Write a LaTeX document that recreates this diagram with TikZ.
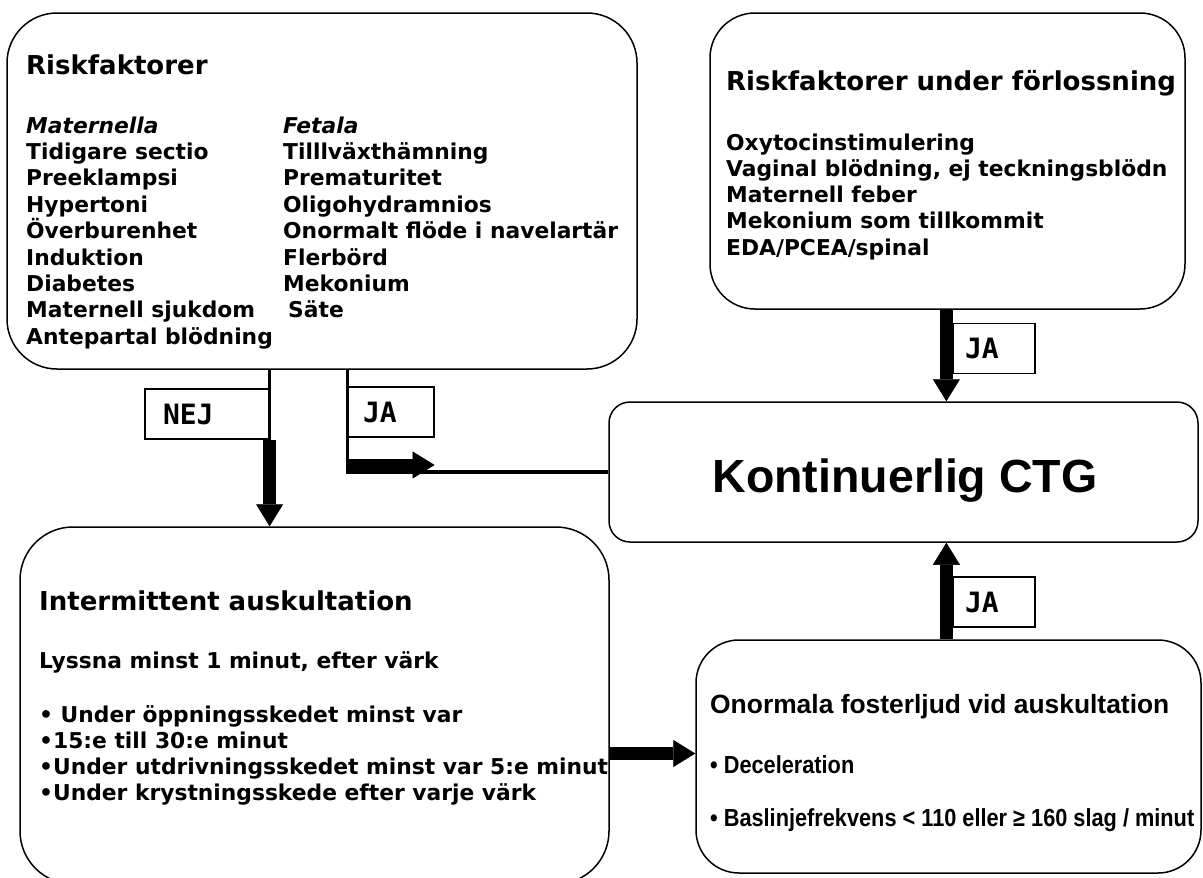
\documentclass[tikz,border=0pt]{standalone}
\usepackage{fontspec}
\usetikzlibrary{arrows.meta,calc}
\setmainfont{DejaVu Sans}
\newfontfamily\arialfont{Liberation Sans}
\newfontfamily\arialnarrow{Liberation Sans}[FakeStretch=0.88]
\newfontfamily\labelfont{DejaVu Sans Mono}

\begin{document}
\begin{tikzpicture}[x=1pt,y=-1pt,
    roundbox/.style={draw,line width=1.5pt,inner sep=0pt},
    answerbox/.style={draw,line width=1.2pt,inner ysep=0pt,minimum height=50pt,align=left,
        font=\labelfont\bfseries\fontsize{28pt}{30pt}\selectfont},
    boxtitle/.style={anchor=base west,inner sep=0pt,font=\bfseries\fontsize{26pt}{30pt}\selectfont},
    boxitem/.style={anchor=base west,inner sep=0pt,font=\bfseries\fontsize{21.8pt}{26pt}\selectfont},
    link/.style={line width=3.5pt},
    bigarrow/.style={line width=13pt,-{Triangle[width=27pt,length=22pt,line width=0.5pt]}}]
\useasboundingbox (0,0) rectangle (1203,878);

% Boxes
\node[roundbox,rounded corners=50pt,minimum width=630pt,minimum height=356pt] (risk) at (322,191) {};
\node[roundbox,rounded corners=45pt,minimum width=475pt,minimum height=296pt] (riskb) at (947.5,161) {};
\node[roundbox,rounded corners=21pt,minimum width=589pt,minimum height=140pt] (ctg) at (903.5,472) {};
\node[roundbox,rounded corners=53pt,minimum width=589pt,minimum height=357pt] (ausk) at (314.5,705.5) {};
\node[roundbox,rounded corners=43pt,minimum width=505pt,minimum height=233pt] (onorm) at (948.5,756.5) {};

% Riskfaktorer
\node[boxtitle] (risktitle) at (26,74) {Riskfaktorer};
\node[boxitem] (mat) at (26,133) {\itshape Maternella};
\foreach \t [count=\i] in {Tidigare sectio,Preeklampsi,Hypertoni,Överburenhet,Induktion,Diabetes,Maternell sjukdom,Antepartal blödning}
    \node[boxitem] (mat\i) at (26,{133+26.4*\i}) {\t};
\node[boxitem] (fet) at (283,133) {\itshape Fetala};
\foreach \t [count=\i] in {Tilllväxthämning,Prematuritet,Oligohydramnios,Onormalt flöde i navelartär,Flerbörd,Mekonium}
    \node[boxitem] (fet\i) at (283,{133+26.4*\i}) {\t};
\node[boxitem] (fet7) at (288,{133+26.4*7}) {Säte};

% Riskfaktorer under förlossning
\node[boxtitle] (riskbtitle) at (726,90) {Riskfaktorer under förlossning};
\foreach \t [count=\i from 0] in {Oxytocinstimulering,{Vaginal blödning, ej teckningsblödn},Maternell feber,Mekonium som tillkommit,EDA/PCEA/spinal}
    \node[boxitem] (rb\i) at (726,{150+26.3*\i}) {\t};

% Kontinuerlig CTG
\node[anchor=base,inner sep=0pt,font=\arialfont\bfseries\fontsize{46.5pt}{50pt}\selectfont] (ctgtitle) at (905,492) {Kontinuerlig CTG};

% Intermittent auskultation
\node[boxtitle] (ausktitle) at (39,610) {Intermittent auskultation};
\node[boxitem] (lyssna) at (39,668) {Lyssna minst 1 minut, efter värk};
\foreach \t [count=\i from 0] in {• Under öppningsskedet minst var,•15:e till 30:e minut,•Under utdrivningsskedet minst var 5:e minut,•Under krystningsskede efter varje värk}
    \node[boxitem] (ak\i) at (39,{722+26.3*\i}) {\t};

% Onormala fosterljud
\node[anchor=base west,inner sep=0pt,font=\arialfont\bfseries\fontsize{26.4pt}{30pt}\selectfont] (onormtitle) at (710,713) {Onormala fosterljud vid auskultation};
\node[anchor=base west,inner sep=0pt,font=\arialnarrow\bfseries\fontsize{24.7pt}{28pt}\selectfont] (dec) at (710,773) {• Deceleration};
\node[anchor=base west,inner sep=0pt,font=\arialnarrow\bfseries\fontsize{24.7pt}{28pt}\selectfont] (bas) at (710,826) {• Baslinjefrekvens < 110 eller ≥ 160 slag / minut};

% Answer labels
\node[answerbox,inner xsep=18pt,text width=88pt] (nej) at (207,414) {NEJ};
\node[answerbox,inner xsep=15pt,text width=56pt] (ja1) at (391,412) {JA};
\node[answerbox,inner xsep=12pt,text width=58pt] (ja2) at (994,348.5) {JA};
\node[answerbox,inner xsep=12pt,text width=58pt] (ja3) at (994,602) {JA};

% Connectors
\draw[link] (nej.north east |- risk.south) -- (nej.south east);
\draw[bigarrow] (nej.south east) -- (nej.south east |- ausk.north);
\draw[link] (ja1.south west |- risk.south) -- (ja1.south west |- ctg.west) -- (ctg.west);
\draw[bigarrow] ($(ja1.south west |- ctg.west)+(0,-7)$) -- ($(ja1.south east |- ctg.west)+(0,-7)$);
\draw[bigarrow] ($(riskb.south -| ja2.west)+(-6,0)$) -- ($(ctg.north -| ja2.west)+(-6,0)$);
\draw[bigarrow] ($(onorm.north -| ja3.west)+(-6,0)$) -- ($(ctg.south -| ja3.west)+(-6,0)$);
\draw[bigarrow] ($(ausk.east |- onorm.west)+(0,-3)$) -- ($(onorm.west)+(0,-3)$);
\end{tikzpicture}
\end{document}
